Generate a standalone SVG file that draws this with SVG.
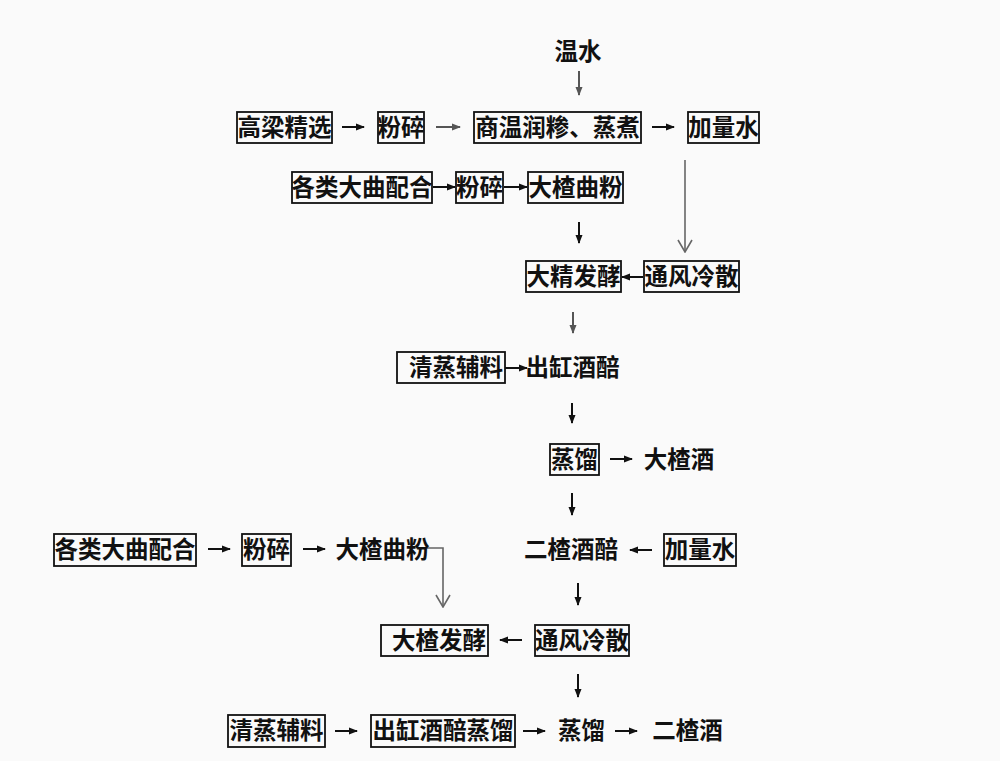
<svg xmlns="http://www.w3.org/2000/svg" width="1000" height="761" viewBox="0 0 1000 761">
<style>
.bx{fill:none;stroke:#111;stroke-width:1.8}
.t{font-family:"Noto Sans CJK SC","Noto Sans CJK TC",sans-serif;font-size:23.5px;font-weight:700;fill:#111;text-anchor:middle}
.a{stroke:#111;stroke-width:2;fill:none;marker-end:url(#ah)}
.ag{stroke:#555;stroke-width:2;fill:none;marker-end:url(#ahg)}
.lv{stroke:#666;stroke-width:1.6;fill:none;marker-end:url(#av)}
</style>
<defs>
<marker id="ah" markerUnits="userSpaceOnUse" markerWidth="9" markerHeight="8" refX="8" refY="4" orient="auto"><path d="M0,0.5 L9,4 L0,7.5 z" fill="#111"/></marker>
<marker id="ahg" markerUnits="userSpaceOnUse" markerWidth="9" markerHeight="8" refX="8" refY="4" orient="auto"><path d="M0,0.5 L9,4 L0,7.5 z" fill="#555"/></marker>
<marker id="av" markerUnits="userSpaceOnUse" markerWidth="14" markerHeight="16" refX="13" refY="8" orient="auto"><path d="M1,1 L13,8 L1,15" fill="none" stroke="#666" stroke-width="1.6"/></marker>
</defs>
<rect width="1000" height="761" fill="#fafafa"/>

<g id="connectors">
<line class="ag" x1="579" y1="71" x2="579" y2="95"/>
<line class="a" x1="342" y1="127" x2="364" y2="127"/>
<line class="ag" x1="436" y1="127" x2="460" y2="127"/>
<line class="a" x1="652" y1="127" x2="674" y2="127"/>
<line class="a" x1="433" y1="187" x2="455" y2="187"/>
<line class="a" x1="504" y1="187" x2="527" y2="187"/>
<line class="lv" x1="685" y1="160" x2="685" y2="252"/>
<line class="a" x1="579" y1="222" x2="579" y2="243"/>
<line class="a" x1="643" y1="277" x2="622" y2="277"/>
<line class="ag" x1="573" y1="312" x2="573" y2="333"/>
<line class="a" x1="505" y1="368" x2="527" y2="368"/>
<line class="a" x1="572" y1="403" x2="572" y2="423"/>
<line class="a" x1="610" y1="459" x2="632" y2="459"/>
<line class="a" x1="572" y1="493" x2="572" y2="515"/>
<line class="a" x1="208" y1="549" x2="230" y2="549"/>
<line class="a" x1="303" y1="549" x2="325" y2="549"/>
<polyline class="lv" points="427,548 443,548 443,607"/>
<line class="a" x1="652" y1="550" x2="630" y2="550"/>
<line class="a" x1="578" y1="583" x2="578" y2="605"/>
<line class="a" x1="522" y1="640" x2="500" y2="640"/>
<line class="a" x1="578" y1="674" x2="578" y2="697"/>
<line class="a" x1="335" y1="731" x2="357" y2="731"/>
<line class="a" x1="523" y1="731" x2="545" y2="731"/>
<line class="a" x1="615" y1="731" x2="637" y2="731"/>
</g>

<g id="n-wenshui"><text class="t" x="578" y="60">温水</text></g>
<g id="n-gaoliang"><rect class="bx" x="237" y="112" width="95" height="31"/><text class="t" x="284.5" y="136">高梁精选</text></g>
<g id="n-fensui1"><rect class="bx" x="378" y="112" width="46" height="31"/><text class="t" x="401" y="136">粉碎</text></g>
<g id="n-gaowen"><rect class="bx" x="474" y="112" width="167" height="31"/><text class="t" x="557.5" y="136">商温润糁、蒸煮</text></g>
<g id="n-jialiangshui1"><rect class="bx" x="688" y="112" width="71" height="31"/><text class="t" x="723.5" y="136">加量水</text></g>

<g id="n-daqu1"><rect class="bx" x="292" y="172" width="140" height="31"/><text class="t" x="362" y="196">各类大曲配合</text></g>
<g id="n-fensui2"><rect class="bx" x="456" y="172" width="47" height="31"/><text class="t" x="479.5" y="196">粉碎</text></g>
<g id="n-quFen1"><rect class="bx" x="528" y="172" width="95" height="31"/><text class="t" x="575.5" y="196">大楂曲粉</text></g>

<g id="n-dajing"><rect class="bx" x="526" y="261" width="95" height="31"/><text class="t" x="573.5" y="285">大精发酵</text></g>
<g id="n-tongfeng1"><rect class="bx" x="644" y="261" width="95" height="31"/><text class="t" x="691.5" y="285">通风冷散</text></g>

<g id="n-qingzheng1"><rect class="bx" x="397" y="352" width="108" height="31"/><text class="t" x="456" y="376">清蒸辅料</text></g>
<g id="n-chugang1"><text class="t" x="572.5" y="376">出缸酒醅</text></g>

<g id="n-zhengliu1"><rect class="bx" x="550" y="444" width="49" height="31"/><text class="t" x="574.5" y="468">蒸馏</text></g>
<g id="n-dazhajiu"><text class="t" x="679" y="468">大楂酒</text></g>

<g id="n-daqu2"><rect class="bx" x="54" y="534" width="142" height="32"/><text class="t" x="125" y="558">各类大曲配合</text></g>
<g id="n-fensui3"><rect class="bx" x="242" y="534" width="49" height="32"/><text class="t" x="266.5" y="558">粉碎</text></g>
<g id="n-quFen2"><text class="t" x="382.5" y="558">大楂曲粉</text></g>
<g id="n-erzhajiupei"><text class="t" x="571" y="558">二楂酒醅</text></g>
<g id="n-jialiangshui2"><rect class="bx" x="664" y="534" width="72" height="32"/><text class="t" x="700" y="558">加量水</text></g>

<g id="n-dazhafajiao"><rect class="bx" x="381" y="625" width="107" height="31"/><text class="t" x="439" y="649">大楂发酵</text></g>
<g id="n-tongfeng2"><rect class="bx" x="535" y="625" width="94" height="31"/><text class="t" x="582" y="649">通风冷散</text></g>

<g id="n-qingzheng2"><rect class="bx" x="228" y="715" width="97" height="32"/><text class="t" x="276.5" y="739">清蒸辅料</text></g>
<g id="n-chugang2"><rect class="bx" x="371" y="715" width="144" height="32"/><text class="t" x="443" y="739">出缸酒醅蒸馏</text></g>
<g id="n-zhengliu2"><text class="t" x="581.5" y="739">蒸馏</text></g>
<g id="n-erzhajiu"><text class="t" x="687.5" y="739">二楂酒</text></g>
</svg>
